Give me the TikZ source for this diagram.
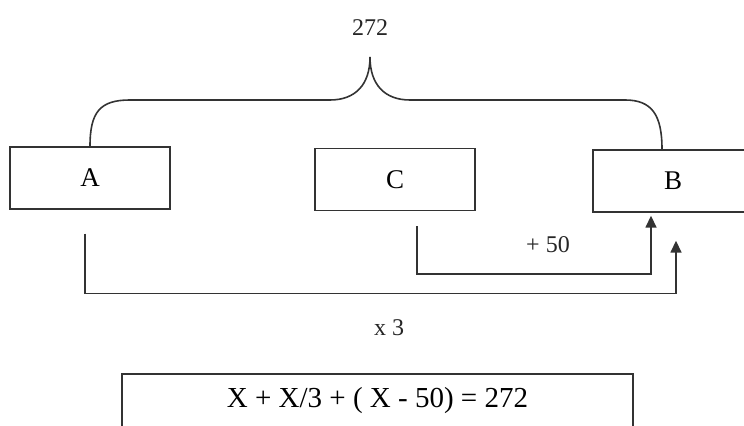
\documentclass[tikz,border=0pt]{standalone}
\usepackage{fontspec}
\setmainfont{Liberation Serif}
\usetikzlibrary{arrows.meta,positioning}

\tikzset{
  box/.style={draw=black!80, line width=0.7pt, minimum width=80pt, minimum height=31pt, inner sep=0pt, font=\fontsize{13.5}{15}\selectfont},
  link/.style={draw=black!80, line width=0.8pt},
  tip/.style={-{Triangle[width=5.5pt,length=6pt]}},
  lbl/.style={text=black!85, font=\fontsize{12}{14}\selectfont},
}

\begin{document}
\begin{tikzpicture}[x=0.5pt, y=-0.5pt]
\useasboundingbox (0,0) rectangle (744,426);
\clip (0,0) rectangle (744,426);
\node[box] (A) at (90,178) {A};
\node[box] (C) at (395,179.5) {C};
\node[box] (B) at (673,181) {B};
\node[lbl] (sum) at (370,28) {272};
\node[box, minimum width=255.5pt, minimum height=27pt, font=\fontsize{14.5}{16}\selectfont] (eq) at (377.5,401) {X + X/3 + ( X - 50) = 272};
% brace over A and B
\coordinate (top) at (370,57);
\coordinate (bend) at ([xshift=-5.5pt]B.north);
\draw[link] (A.north) .. controls (90,112) and (100,100) .. (130,100) -- (330,100) .. controls (355,100) and (370,85) .. (top);
\draw[link] (top) .. controls (370,85) and (385,100) .. (410,100) -- (625,100) .. controls (652,100) and (662,115) .. (bend);
% connectors to B
\coordinate (aout) at ([xshift=-2.5pt, yshift=-12pt]A.south);
\coordinate (bin) at ([xshift=1.5pt, yshift=-14pt]B.south);
\coordinate (cout) at ([xshift=11pt, yshift=-7.5pt]C.south);
\coordinate (cin) at ([xshift=-11pt, yshift=-1.5pt]B.south);
\draw[link,tip] (aout) -- ++(0,60) -| (bin);
\draw[link,tip] (cout) -- ++(0,48) -| (cin);
\node[lbl] (add) at (548,245) {+ 50};
\node[lbl] (mul) at (389,328) {x 3};
\end{tikzpicture}
\end{document}
